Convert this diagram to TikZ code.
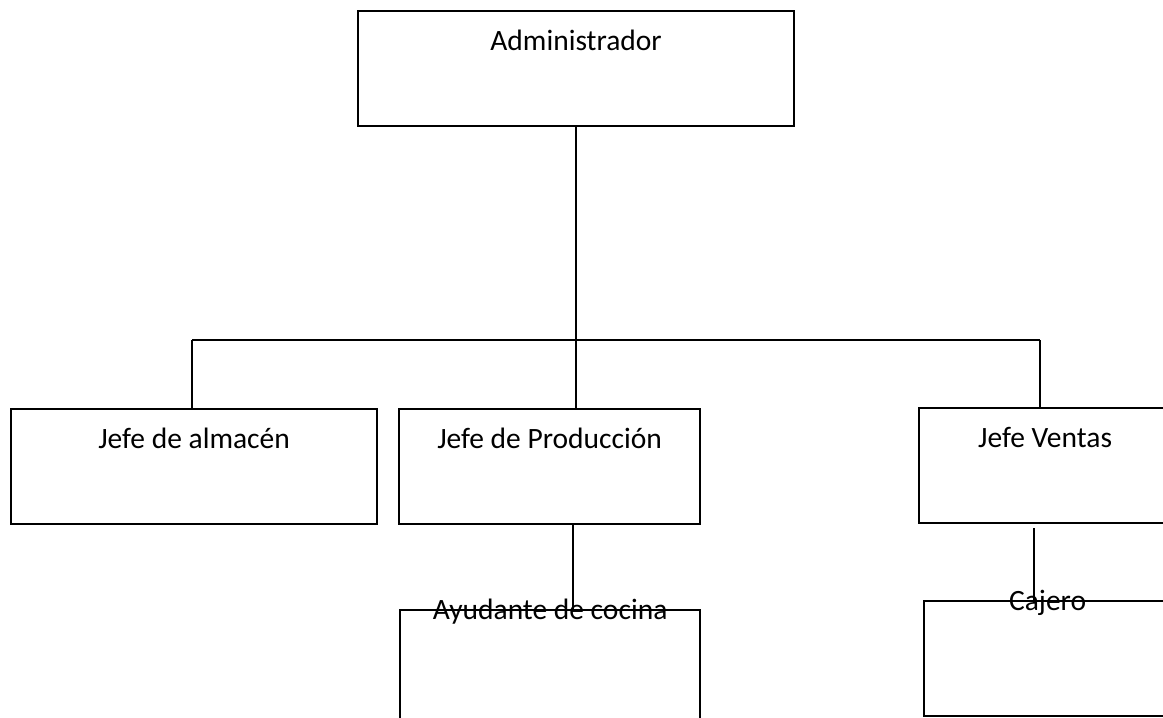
\documentclass[tikz,border=0pt]{standalone}
\usepackage{fontspec}
\setmainfont{Carlito}
\begin{document}
\begin{tikzpicture}[x=1pt,y=1pt,line width=2.2pt,
    puesto/.style={draw,rectangle,inner sep=0pt,anchor=north west,minimum height=115pt},
    titulo/.style={anchor=base,yshift=-40pt,font=\fontsize{29.5}{35}\selectfont},
    subtitulo/.style={anchor=base,yshift=-10pt,font=\fontsize{29.5}{35}\selectfont}]
    \useasboundingbox (0,0) rectangle (1163,-718);
    \node[puesto,minimum width=436pt,label={[titulo]north:Administrador}] (admin) at (357,-10) {};
    \node[puesto,minimum width=366pt,label={[titulo]north:Jefe de almacén}] (almacen) at (10,-408) {};
    \node[puesto,minimum width=301pt,label={[titulo]north:Jefe de Producción}] (prod) at (398,-408) {};
    \node[puesto,minimum width=252pt,label={[titulo]north:Jefe Ventas}] (ventas) at (918,-407) {};
    \node[puesto,minimum width=300pt,minimum height=125pt,label={[subtitulo]north:Ayudante de cocina}] (ayudante) at (399,-609) {};
    \node[puesto,minimum width=247pt,label={[subtitulo]north:Cajero}] (cajero) at (923,-600) {};
    \coordinate (busL) at (192,-340);
    \coordinate (busR) at (1040,-340);
    \draw (busL) -- (busR);
    \draw (admin.south) -- (admin.south |- busL);
    \draw (busL) -- (busL |- almacen.north);
    \draw (admin.south |- busL) -- (admin.south |- prod.north);
    \draw (busR) -- (busR |- ventas.north);
    \draw ([xshift=23pt]prod.south) -- ([xshift=23pt]prod.south |- ayudante.north);
    \draw ([xshift=-11pt,yshift=-4pt]ventas.south) -- ([xshift=-11pt,yshift=-3pt]ventas.south |- cajero.north);
\end{tikzpicture}
\end{document}
